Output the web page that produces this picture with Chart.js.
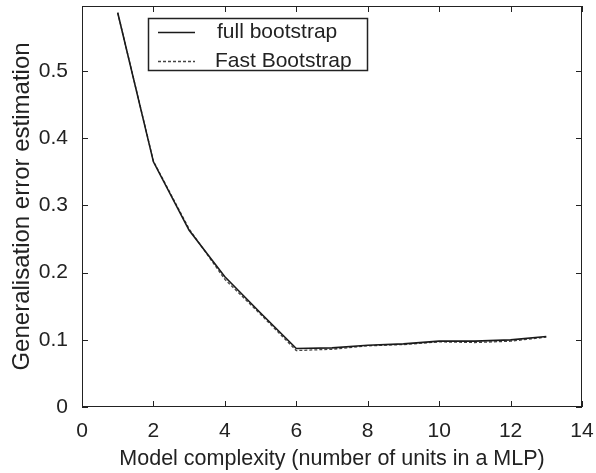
<!DOCTYPE html>
<html>
<head>
<meta charset="utf-8">
<script src="https://cdn.jsdelivr.net/npm/chart.js@4.4.1/dist/chart.umd.min.js"></script>
<style>
  html, body { margin: 0; padding: 0; background: #fff; }
  #wrap { width: 596px; height: 473px; }
</style>
</head>
<body>
<div id="wrap"><canvas id="chart"></canvas></div>
<script>
// --- data ---
const complexity = [1, 2, 3, 4, 5, 6, 7, 8, 9, 10, 11, 12, 13];
const fullBootstrap = [0.587, 0.365, 0.263, 0.194, 0.140, 0.087, 0.088, 0.092, 0.094, 0.098, 0.098, 0.100, 0.105];
const fastBootstrap = [0.587, 0.366, 0.265, 0.190, 0.138, 0.084, 0.086, 0.091, 0.093, 0.097, 0.096, 0.098, 0.104];
const xTicks = [0, 2, 4, 6, 8, 10, 12, 14];
const yTicks = [0, 0.1, 0.2, 0.3, 0.4, 0.5];

const ink = '#222';
const family = 'Liberation Sans, Arial, sans-serif';
const font = { family, size: 21 };

// box round the plot, inward ticks on all four sides, legend inside the axes
const matlabAxes = {
    id: 'matlabAxes',
    afterDraw(chart) {
        const { ctx, chartArea: a, scales: { x, y } } = chart;
        const len = 6;
        ctx.save();
        ctx.strokeStyle = ink;
        ctx.lineWidth = 1;
        ctx.strokeRect(a.left + 0.5, a.top + 0.5, a.right - a.left - 1, a.bottom - a.top - 1);
        ctx.beginPath();
        xTicks.forEach(v => {
            const px = Math.round(x.getPixelForValue(v)) + 0.5;
            ctx.moveTo(px, a.bottom); ctx.lineTo(px, a.bottom - len);
            ctx.moveTo(px, a.top); ctx.lineTo(px, a.top + len);
        });
        yTicks.forEach(v => {
            const py = Math.round(y.getPixelForValue(v)) + 0.5;
            ctx.moveTo(a.left, py); ctx.lineTo(a.left + len, py);
            ctx.moveTo(a.right, py); ctx.lineTo(a.right - len, py);
        });
        ctx.stroke();

        // legend
        const bx = 148, by = 18, bw = 219, bh = 52;
        ctx.fillStyle = '#fff';
        ctx.fillRect(bx, by, bw, bh);
        ctx.lineWidth = 1.5;
        ctx.strokeRect(bx + 0.5, by + 0.5, bw, bh);
        ctx.font = `${font.size}px ${family}`;
        ctx.textBaseline = 'middle';
        chart.data.datasets.forEach((ds, i) => {
            const ly = by + 14 + i * 29;
            ctx.strokeStyle = ds.borderColor;
            ctx.lineWidth = ds.borderWidth;
            ctx.setLineDash(ds.borderDash || []);
            ctx.beginPath();
            ctx.moveTo(bx + 10, ly + 0.5);
            ctx.lineTo(bx + 47, ly + 0.5);
            ctx.stroke();
            ctx.setLineDash([]);
            ctx.fillStyle = ink;
            ctx.fillText(ds.label, bx + (i === 0 ? 69 : 67), ly);
        });
        ctx.restore();
    }
};

new Chart(document.getElementById('chart'), {
    type: 'line',
    data: {
        datasets: [
            {
                label: 'full bootstrap',
                data: complexity.map((c, i) => ({ x: c, y: fullBootstrap[i] })),
                borderColor: '#1a1a1a', borderWidth: 1.6,
                pointRadius: 0, tension: 0, fill: false
            },
            {
                label: 'Fast Bootstrap',
                data: complexity.map((c, i) => ({ x: c, y: fastBootstrap[i] })),
                borderColor: '#444', borderWidth: 1.3, borderDash: [3, 2],
                pointRadius: 0, tension: 0, fill: false
            }
        ]
    },
    options: {
        responsive: true,
        maintainAspectRatio: false,
        animation: false,
        layout: { padding: { left: 0, right: 14, top: 6, bottom: 0 } },
        plugins: { legend: { display: false }, tooltip: { enabled: false } },
        scales: {
            x: {
                type: 'linear', min: 0, max: 14,
                grid: { display: false, drawTicks: false },
                border: { display: false },
                ticks: { stepSize: 2, color: ink, font, padding: 12, maxRotation: 0 },
                title: { display: true, text: 'Model complexity (number of units in a MLP)', color: ink,
                         font: { family, size: 21.5 }, padding: { top: 2, bottom: 1 } },
                afterFit: s => { s.height = 66; s.paddingLeft = 0; s.paddingRight = 0; }
            },
            y: {
                min: 0, max: 0.597,
                grid: { display: false, drawTicks: false },
                border: { display: false },
                ticks: { stepSize: 0.1, includeBounds: false, color: ink, font, padding: 14 },
                title: { display: true, text: 'Generalisation error estimation', color: ink,
                         font: { family, size: 24 }, padding: { top: 8, bottom: 2 } },
                afterFit: s => { s.width = 82; s.paddingTop = 0; s.paddingBottom = 0; }
            }
        }
    },
    plugins: [matlabAxes]
});
</script>
</body>
</html>
